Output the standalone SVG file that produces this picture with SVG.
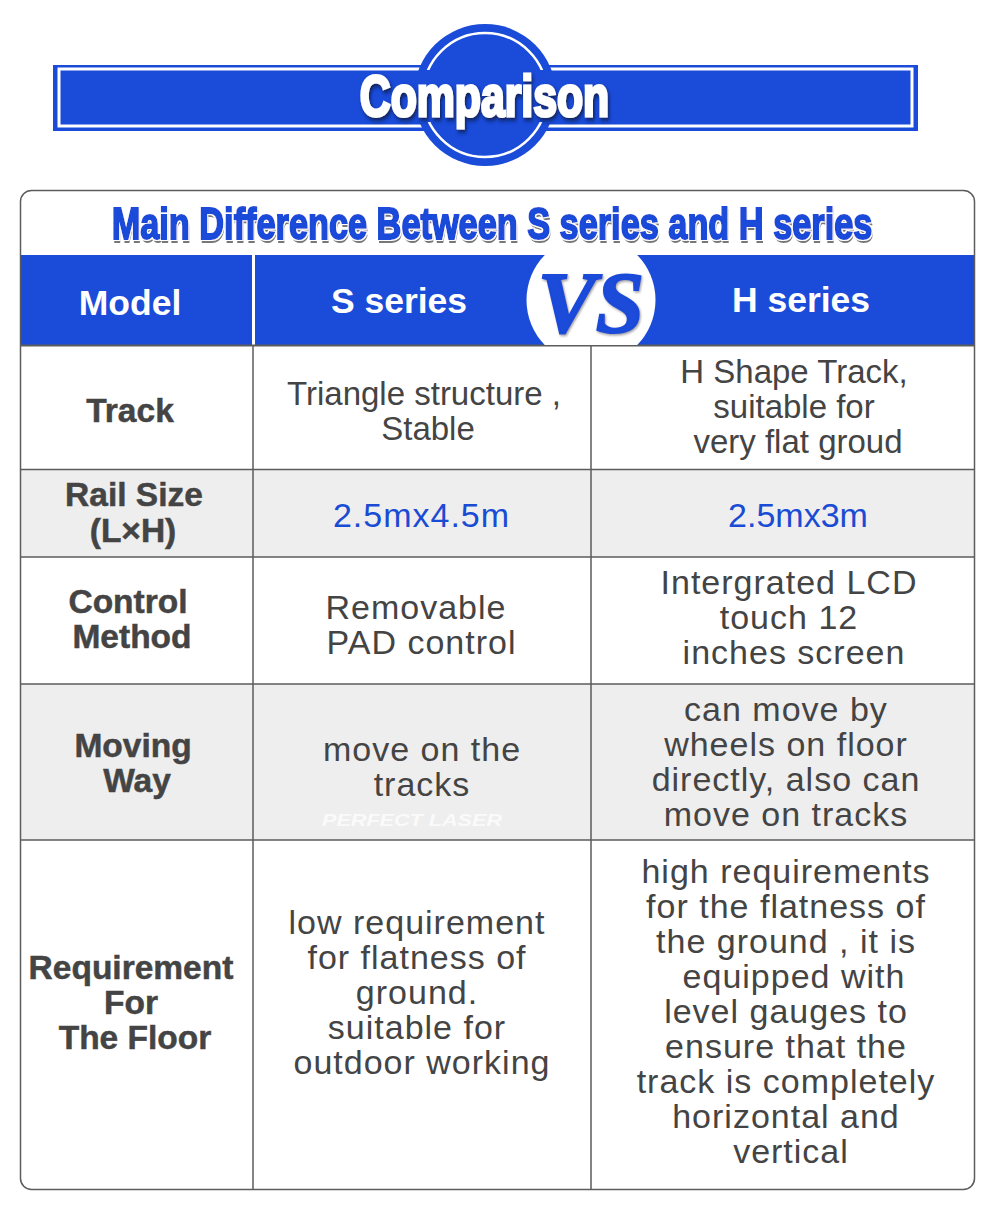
<svg xmlns="http://www.w3.org/2000/svg" width="1000" height="1208" viewBox="0 0 1000 1208">
<style>
text{font-family:"Liberation Sans",Arial,sans-serif;text-anchor:middle}
.b{font-size:34px;letter-spacing:1px;fill:#444}
.n{font-size:33px;fill:#444}
.l{font-size:33.500px;font-weight:bold;fill:#444;stroke:#444;stroke-width:.5}
.h{font-size:35.500px;font-weight:bold;fill:#fff}
.v{font-size:34px;letter-spacing:1px;fill:#1a4bd4}
.g{stroke:#5c5c5c;stroke-width:1.500;fill:none}
.bl{fill:#1a4bd9}
</style>
<defs>
<filter id="s1" x="-10%" y="-20%" width="120%" height="150%"><feDropShadow dx="2" dy="3" stdDeviation="2" flood-color="#0a1c50" flood-opacity=".9"/></filter>
<filter id="s2" x="-5%" y="-20%" width="110%" height="150%"><feMorphology in="SourceAlpha" operator="dilate" radius="1" result="d"/><feFlood flood-color="#fff"/><feComposite in2="d" operator="in" result="w"/><feOffset in="SourceAlpha" dx="1" dy="2.500" result="o"/><feGaussianBlur in="o" stdDeviation=".6" result="ob"/><feFlood flood-color="#777"/><feComposite in2="ob" operator="in" result="sh"/><feMerge><feMergeNode in="sh"/><feMergeNode in="w"/><feMergeNode in="SourceGraphic"/></feMerge></filter>
<filter id="s3" x="-10%" y="-10%" width="120%" height="120%"><feDropShadow dx="1" dy="1.500" stdDeviation=".8" flood-color="#888" flood-opacity=".8"/></filter>
<clipPath id="hdr"><rect x="21" y="255" width="953" height="90"/></clipPath>
<clipPath id="ring"><rect x="400" y="20" width="170" height="50"/><rect x="400" y="122" width="170" height="50"/></clipPath>
</defs>
<rect width="1000" height="1208" fill="#fff"/>
<g id="banner">
<rect class="bl" x="53" y="65" width="865" height="66"/>
<rect x="59" y="69" width="853" height="57" fill="none" stroke="#fff" stroke-width="3"/>
<circle class="bl" cx="485" cy="95" r="71"/>
<circle cx="485" cy="95" r="62" fill="none" stroke="#fff" stroke-width="2.500" clip-path="url(#ring)"/>
<text transform="translate(484.500 116) scale(.75 1)" font-size="57" font-weight="bold" fill="#fff" stroke="#fff" stroke-width="3" filter="url(#s1)">Comparison</text>
</g>
<g id="table-frame">
<path d="M21 684H974V840H21ZM21 470H974V557H21Z" fill="#eee"/>
<rect class="bl" x="21" y="255" width="953" height="90"/>
<rect x="252" y="255" width="3" height="90" fill="#fff"/>
</g>
<g id="watermark"><text x="412" y="826" font-size="17" font-weight="bold" font-style="italic" fill="#fff" fill-opacity=".75" textLength="180" lengthAdjust="spacingAndGlyphs">PERFECT LASER</text></g>
<g id="connectors">
<rect class="g" x="20.500" y="190.500" width="954" height="999" rx="11"/>
<path class="g" d="M253 345V1189M591 345V1189M21 469.500H974M21 557H974M21 684H974M21 840H974"/>
<path d="M21 345.500H974" stroke="#5c5c5c" stroke-width="2"/>
</g>
<g id="title"><text transform="translate(492 239) scale(.78 1)" font-size="44" font-weight="bold" fill="#1a4bd9" stroke="#1a4bd9" stroke-width="2" filter="url(#s2)">Main Difference Between S series and H series</text></g>
<g id="header-model"><text class="h" x="130" y="315">Model</text></g>
<g id="header-s"><text class="h" x="399" y="313">S series</text></g>
<g id="vs-badge">
<circle cx="591" cy="300" r="64.500" fill="#fff" clip-path="url(#hdr)"/>
<text transform="translate(591 332)" font-size="87" font-weight="bold" font-style="italic" style="font-family:'Liberation Serif',serif" fill="#1a4bd9" stroke="#1a4bd9" stroke-width="2" filter="url(#s3)">VS</text>
</g>
<g id="header-h"><text class="h" x="801" y="312">H series</text></g>
<g id="row-track">
<text class="l" x="130" y="422">Track</text>
<text class="n" x="424" y="405">Triangle structure ,</text>
<text class="n" x="428" y="440">Stable</text>
<text class="n" x="794" y="383">H Shape Track,</text>
<text class="n" x="794" y="418">suitable for</text>
<text class="n" x="798" y="453">very flat groud</text>
</g>
<g id="row-rail">
<text class="l" x="134" y="506">Rail Size</text>
<text class="l" x="133" y="542">(L×H)</text>
<text class="v" x="421.500" y="527">2.5mx4.5m</text>
<text class="v" x="798" y="527" style="letter-spacing:0">2.5mx3m</text>
</g>
<g id="row-control">
<text class="l" x="128" y="613">Control</text>
<text class="l" x="132" y="648">Method</text>
<text class="b" x="416" y="619">Removable</text>
<text class="b" x="421.500" y="654">PAD control</text>
<text class="b" x="789" y="594">Intergrated LCD</text>
<text class="b" x="789" y="629">touch 12</text>
<text class="b" x="794" y="664">inches screen</text>
</g>
<g id="row-moving">
<text class="l" x="133" y="757">Moving</text>
<text class="l" x="137" y="792">Way</text>
<text class="b" x="422" y="761">move on the</text>
<text class="b" x="422" y="796">tracks</text>
<text class="b" x="786" y="721">can move by</text>
<text class="b" x="786" y="756">wheels on floor</text>
<text class="b" x="786" y="791">directly, also can</text>
<text class="b" x="786" y="826">move on tracks</text>
</g>
<g id="row-floor">
<text class="l" x="131" y="979">Requirement</text>
<text class="l" x="131" y="1014">For</text>
<text class="l" x="135" y="1049">The Floor</text>
<text class="b" x="417" y="934">low requirement</text>
<text class="b" x="417" y="969">for flatness of</text>
<text class="b" x="417" y="1004">ground.</text>
<text class="b" x="417" y="1039">suitable for</text>
<text class="b" x="422" y="1074">outdoor working</text>
<text class="b" x="786" y="883">high requirements</text>
<text class="b" x="786" y="918">for the flatness of</text>
<text class="b" x="786" y="953">the ground , it is</text>
<text class="b" x="794" y="988">equipped with</text>
<text class="b" x="786" y="1023">level gauges to</text>
<text class="b" x="786" y="1058">ensure that the</text>
<text class="b" x="786" y="1093">track is completely</text>
<text class="b" x="786" y="1128">horizontal and</text>
<text class="b" x="791" y="1163">vertical</text>
</g>
</svg>
